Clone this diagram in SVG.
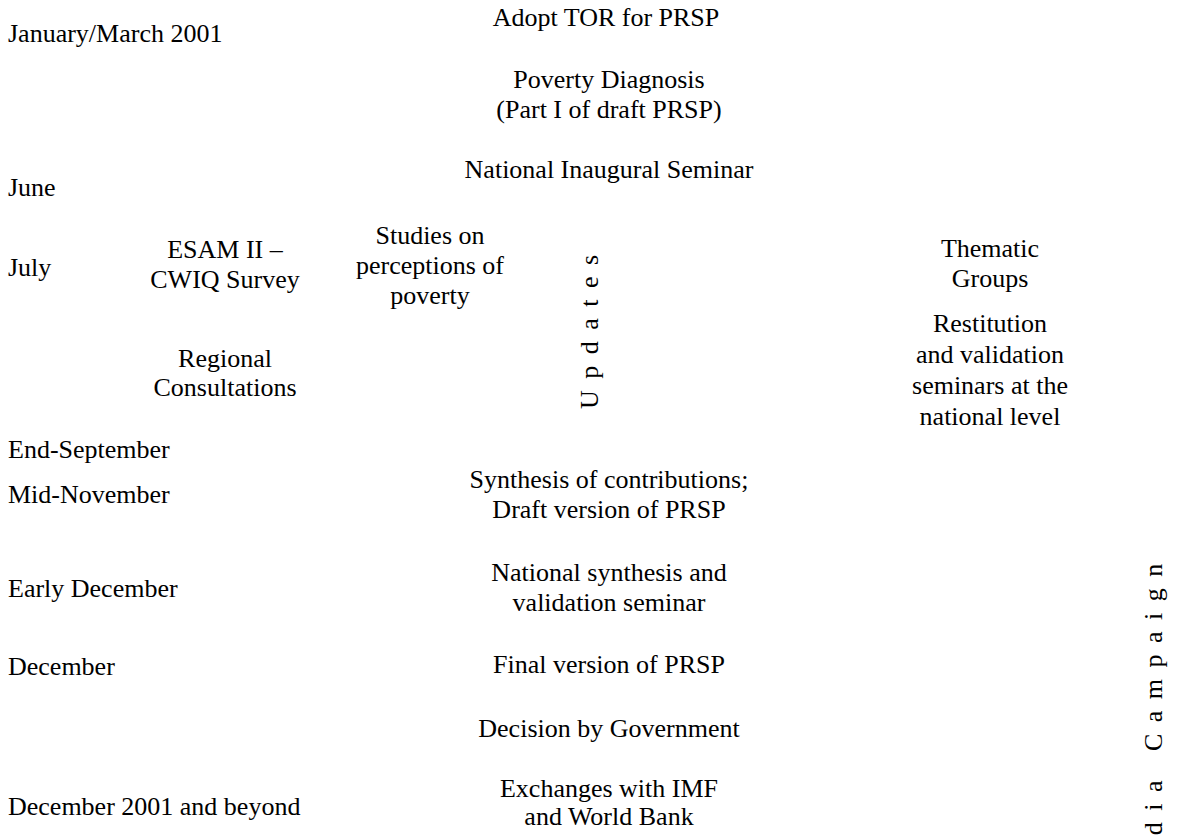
<svg xmlns="http://www.w3.org/2000/svg" width="1177" height="837" viewBox="0 0 1177 837">
<style>
text{font-family:"Liberation Serif","Times New Roman",serif;font-size:26px;fill:#000}
.c{text-anchor:middle}
.v{letter-spacing:11.5px}
</style>
<rect width="1177" height="837" fill="#fff"/>
<g id="dates">
<text x="8" y="42">January/March 2001</text>
<text x="8" y="196">June</text>
<text x="8" y="276">July</text>
<text x="8" y="458">End-September</text>
<text x="8" y="503">Mid-November</text>
<text x="8" y="597">Early December</text>
<text x="8" y="675">December</text>
<text x="8" y="815">December 2001 and beyond</text>
</g>
<g id="n-adopt"><text class="c" x="606" y="26">Adopt TOR for PRSP</text></g>
<g id="n-diagnosis"><text class="c" x="609" y="88">Poverty Diagnosis</text><text class="c" x="609" y="118">(Part I of draft PRSP)</text></g>
<g id="n-seminar"><text class="c" x="609" y="178">National Inaugural Seminar</text></g>
<g id="n-esam"><text class="c" x="225" y="258">ESAM II –</text><text class="c" x="225" y="288">CWIQ Survey</text></g>
<g id="n-studies"><text class="c" x="430" y="244">Studies on</text><text class="c" x="430" y="274">perceptions of</text><text class="c" x="430" y="304">poverty</text></g>
<g id="n-regional"><text class="c" x="225" y="367">Regional</text><text class="c" x="225" y="396">Consultations</text></g>
<g id="n-updates"><text class="v" transform="translate(598,409) rotate(-90)">Updates</text></g>
<g id="n-thematic"><text class="c" x="990" y="257">Thematic</text><text class="c" x="990" y="287">Groups</text></g>
<g id="n-restitution"><text class="c" x="990" y="332">Restitution</text><text class="c" x="990" y="363">and validation</text><text class="c" x="990" y="394">seminars at the</text><text class="c" x="990" y="425">national level</text></g>
<g id="n-synthesis"><text class="c" x="609" y="488">Synthesis of contributions;</text><text class="c" x="609" y="518">Draft version of PRSP</text></g>
<g id="n-national"><text class="c" x="609" y="581">National synthesis and</text><text class="c" x="609" y="611">validation seminar</text></g>
<g id="n-final"><text class="c" x="609" y="673">Final version of PRSP</text></g>
<g id="n-decision"><text class="c" x="609" y="737">Decision by Government</text></g>
<g id="n-exchanges"><text class="c" x="609" y="797">Exchanges with IMF</text><text class="c" x="609" y="825">and World Bank</text></g>
<g id="n-media"><text class="v" transform="translate(1162,893) rotate(-90)">Media Campaign</text></g>
<g id="connectors"></g>
</svg>
